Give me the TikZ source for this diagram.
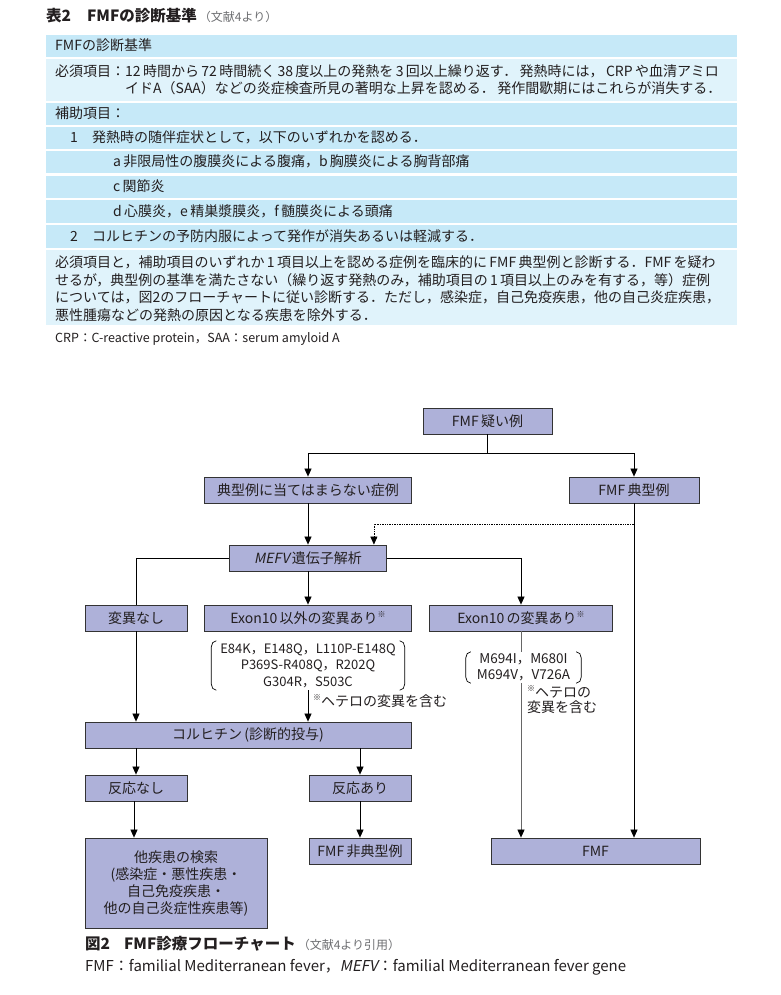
\documentclass[tikz,border=0pt]{standalone}
\usepackage{fontspec}
\setmainfont{Noto Sans CJK JP}
\newfontfamily\slantfont[FakeSlant=0.2]{Noto Sans CJK JP}
\usetikzlibrary{arrows.meta,positioning}
\definecolor{rowblue}{HTML}{C6E9F8}
\definecolor{rowpale}{HTML}{E0F3FB}
\definecolor{boxfill}{HTML}{AEB1D9}
\definecolor{inkgray}{HTML}{231F20}
\definecolor{notegray}{HTML}{6D6E71}
\newcommand{\kome}{\raisebox{0.45em}{\fontsize{8}{8}\selectfont ※}}
\newcommand{\mefv}{{\slantfont MEFV}}
\newcommand{\refnote}[1]{{\fontsize{12}{12}\selectfont\color{notegray}#1}}

\begin{document}
\begin{tikzpicture}[x=1pt,y=-1pt,
    every node/.style={font=\fontsize{14}{17.5}\selectfont, text=inkgray},
    txt/.style={anchor=base west, inner sep=0pt},
    headtxt/.style={txt, font=\fontsize{15.5}{16}\selectfont},
    fbox/.style={draw=black!80, fill=boxfill, line width=0.8pt, minimum height=26pt, inner sep=0pt},
    lin/.style={line width=0.7pt},
    arr/.style={lin, -{Triangle[width=7pt,length=8pt,color=black]}}]
\useasboundingbox (0,0) rectangle (781,995);

% table 2
\node[headtxt] (title) at (46,22) {\textbf{表2\hspace{16pt}FMFの診断基準}\hspace{2pt}\refnote{（文献4より）}};
\fill[rowblue] (46,35) rectangle (737,57);
\fill[rowpale] (46,59) rectangle (737,101);
\fill[rowblue] (46,103) rectangle (737,125);
\fill[rowblue] (46,127) rectangle (737,149);
\fill[rowblue] (46,151) rectangle (737,173);
\fill[rowblue] (46,176) rectangle (737,198);
\fill[rowblue] (46,200) rectangle (737,223);
\fill[rowblue] (46,225) rectangle (737,248);
\fill[rowpale] (46,250) rectangle (737,325);

\node[txt] (hdr) at (55,51) {FMFの診断基準};
\node[txt] (must) at (55,77) {必須項目：};
\node[txt] (mustA) at (125,77) {12\,時間から\,72\,時間続く\,38\,度以上の発熱を\,3\,回以上繰り返す．\,発熱時には，\,CRP\,や血清アミロ};
\node[txt] (mustB) at (125,94) {イドA（SAA）などの炎症検査所見の著明な上昇を認める．\,発作間歇期にはこれらが消失する．};
\node[txt] (aux) at (55,119) {補助項目：};
\node[txt] (n1) at (70,143) {1};
\node[txt] (aux1) at (92,143) {発熱時の随伴症状として，以下のいずれかを認める．};
\node[txt] (auxa) at (113,167) {a\,非限局性の腹膜炎による腹痛，b\,胸膜炎による胸背部痛};
\node[txt] (auxc) at (113,192) {c\,関節炎};
\node[txt] (auxd) at (113,216) {d\,心膜炎，e\,精巣漿膜炎，f\,髄膜炎による頭痛};
\node[txt] (n2) at (70,241) {2};
\node[txt] (aux2) at (92,241) {コルヒチンの予防内服によって発作が消失あるいは軽減する．};
\node[txt] (parA) at (55,267) {必須項目と，補助項目のいずれか\,1\,項目以上を認める症例を臨床的に\,FMF\,典型例と診断する．FMF\,を疑わ};
\node[txt] (parB) at (55,285) {せるが，典型例の基準を満たさない（繰り返す発熱のみ，補助項目の\,1\,項目以上のみを有する，等）症例};
\node[txt] (parC) at (55,302) {については，図2のフローチャートに従い診断する．ただし，感染症，自己免疫疾患，他の自己炎症疾患，};
\node[txt] (parD) at (55,320) {悪性腫瘍などの発熱の原因となる疾患を除外する．};
\node[txt, font=\fontsize{12.5}{13}\selectfont] (abbr) at (55,342) {CRP：C-reactive protein，SAA：serum amyloid A};

% figure 2
\node[fbox, minimum width=129pt] (susp) at (487.5,421) {FMF\,疑い例};
\node[fbox, minimum width=207pt] (atyp) at (308,490) {典型例に当てはまらない症例};
\node[fbox, minimum width=130pt] (typ) at (634,490) {FMF\,典型例};
\node[fbox, minimum width=157pt] (gene) at (308,558) {\mefv\,遺伝子解析};
\node[fbox, minimum width=102pt] (nomut) at (136,618) {変異なし};
\node[fbox, minimum width=207pt] (other) at (308,618) {Exon10\,以外の変異あり\kome};
\node[fbox, minimum width=183pt] (ex10) at (521,618) {Exon10\,の変異あり\kome};
\node[inner sep=0pt, minimum width=193pt, minimum height=49pt, align=center,
      font=\fontsize{13}{16.5}\selectfont] (vars) at (308,665.5)
      {E84K，E148Q，L110P-E148Q\\P369S-R408Q，R202Q\\G304R，S503C};
\node[fbox, minimum width=326pt] (colch) at (248,735) {コルヒチン\,(診断的投与)};
\node[fbox, minimum width=102pt] (nores) at (136,788) {反応なし};
\node[fbox, minimum width=102pt] (res) at (360,788) {反応あり};
\node[fbox, minimum width=182pt, minimum height=90pt, align=center,
      font=\fontsize{14}{17}\selectfont] (search) at (176,883)
      {他疾患の検索\\(感染症・悪性疾患・\\自己免疫疾患・\\他の自己炎症性疾患等)};
\node[fbox, minimum width=102pt] (atypfmf) at (360,851) {FMF\,非典型例};
\node[fbox, minimum width=209pt] (fmf) at (595.5,851) {FMF};

\coordinate (split) at (487.5,453);
\coordinate (dotc) at (634,524);
\draw[lin] (susp) -- (split);
\draw[arr] (split) -| (atyp.north);
\draw[arr] (split) -| (typ.north);
\draw[arr] (atyp) -- (gene);
\draw[arr, densely dotted] (dotc) -| ([xshift=-13pt]gene.north east);
\draw[arr] (typ) -- (typ.south |- fmf.north);
\draw[lin] (gene.west) -| (nomut.north);
\draw[arr] (gene) -- (other);
\draw[arr] (gene.east) -| (ex10.north);
\draw[arr] (nomut) -- (nomut.south |- colch.north);
\draw[arr] (vars) -- (vars.south |- colch.north);
\draw[arr, draw=black!60] (ex10) -- (ex10.south |- fmf.north);
\draw[arr] (nores.north |- colch.south) -- (nores);
\draw[arr] (res.north |- colch.south) -- (res);
\draw[arr] ([xshift=-2pt]nores.south) -- ([xshift=-2pt]nores.south |- search.north);
\draw[arr] (res) -- (atypfmf);

% brackets round the variant lists
\draw[lin] ([xshift=5pt]vars.north west) to[out=180,in=90] ([yshift=-6pt]vars.north west)
  -- ([yshift=6pt]vars.south west) to[out=-90,in=180] ([xshift=5pt]vars.south west);
\draw[lin] ([xshift=-5pt]vars.north east) to[out=0,in=90] ([yshift=-6pt]vars.north east)
  -- ([yshift=6pt]vars.south east) to[out=-90,in=0] ([xshift=-5pt]vars.south east);
\node[fill=white, inner sep=0pt, minimum width=115pt, minimum height=31pt, align=center,
      font=\fontsize{13.5}{16}\selectfont] (varsten) at (523.5,667.5)
      {M694I，M680I\\M694V，V726A};
\draw[lin] ([xshift=5pt]varsten.north west) to[out=180,in=90] ([yshift=-6pt]varsten.north west)
  -- ([yshift=6pt]varsten.south west) to[out=-90,in=180] ([xshift=5pt]varsten.south west);
\draw[lin] ([xshift=-5pt]varsten.north east) to[out=0,in=90] ([yshift=-6pt]varsten.north east)
  -- ([yshift=6pt]varsten.south east) to[out=-90,in=0] ([xshift=-5pt]varsten.south east);

\node[anchor=west, inner sep=0pt] (hetA) at (313,701) {\kome ヘテロの変異を含む};
\node[anchor=north west, inner sep=0pt, align=left, font=\fontsize{14}{15.5}\selectfont] (hetB) at (527,685)
      {\kome ヘテロの\\変異を含む};

% caption
\node[headtxt] (cap) at (85,949) {\textbf{図2\hspace{14pt}FMF診療フローチャート}\hspace{2pt}\refnote{（文献4より引用）}};
\node[txt, font=\fontsize{15}{16}\selectfont] (capnote) at (85,971) {FMF：familial Mediterranean fever，\mefv：familial Mediterranean fever gene};
\end{tikzpicture}
\end{document}
